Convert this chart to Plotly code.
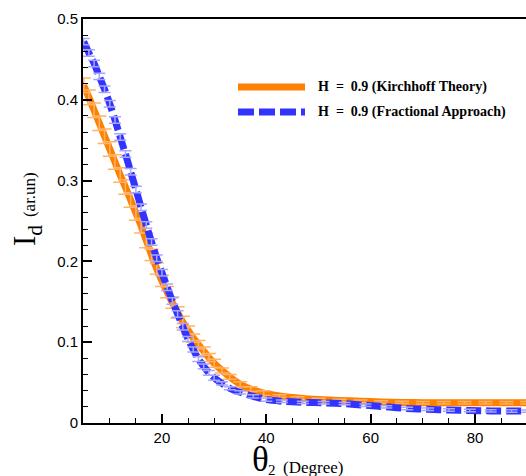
import plotly.graph_objects as go

# ---------------- data ----------------
theta_kirchhoff = [5, 6, 7, 8, 9, 10, 11, 12, 13, 14, 15, 16, 17, 18, 19, 20, 21, 22, 23, 24,
                   25, 26, 27, 28, 29, 30, 31.5, 33, 35, 37, 39.5,
                   42.5, 46, 50, 54, 58, 62, 66, 70, 74, 78, 82, 86, 90]
i_kirchhoff = [0.418, 0.403, 0.387, 0.371, 0.355, 0.339, 0.323, 0.307, 0.292, 0.276,
               0.260, 0.244, 0.226, 0.208, 0.191, 0.176, 0.162, 0.149, 0.137, 0.125,
               0.115, 0.105, 0.097, 0.089, 0.081, 0.074, 0.065, 0.057, 0.048, 0.042, 0.037,
               0.0335, 0.031, 0.029, 0.028, 0.027, 0.026, 0.0255, 0.025, 0.025, 0.025,
               0.025, 0.025, 0.025]
err_kirchhoff = [0.009] * 13 + [0.007] * 7 + [0.005] * 6 + [0.003] * 5 + [0.0015] * 13

theta_fractional = [5, 6, 7, 8, 9, 10, 11, 12, 13, 14, 15, 16, 17, 18, 19, 20, 21, 22, 23, 24,
                    25, 26, 27, 28, 29, 30, 31.5, 33, 35, 37.5, 40,
                    43, 47, 51, 55, 59, 63, 67, 71, 75, 79, 83, 87, 90]
i_fractional = [0.472, 0.458, 0.445, 0.429, 0.413, 0.395, 0.375, 0.354, 0.333, 0.311,
                0.289, 0.267, 0.245, 0.224, 0.204, 0.186, 0.168, 0.151, 0.135, 0.119,
                0.104, 0.091, 0.079, 0.070, 0.062, 0.056, 0.049, 0.043, 0.038, 0.033, 0.029,
                0.027, 0.0255, 0.025, 0.024, 0.022, 0.020, 0.018, 0.017, 0.016, 0.0155,
                0.015, 0.0148, 0.0147]
err_fractional = [0.004] * 20 + [0.003] * 6 + [0.002] * 5 + [0.0015] * 13

series_names = ["H\u00a0\u00a0=\u00a0\u00a00.9 (Kirchhoff Theory)",
                "H\u00a0\u00a0=\u00a0\u00a00.9 (Fractional Approach)"]
x_ticks = [20, 40, 60, 80]
y_ticks = [0, 0.1, 0.2, 0.3, 0.4, 0.5]
x_title_main = "θ"
x_title_sub = "2"
x_title_unit = "(Degree)"
y_title = "I<sub>d</sub> <span style='font-size:17px'>(ar.un)</span>"

# ---------------- style ----------------
ORANGE = "#FF8000"
ORANGE_ERR = "#FFB366"
BLUE = "#3333FF"
BLUE_ERR = "#A6A6FF"

W, H = 526, 476
ML, MR, MT, MB = 83, 0, 19, 53
PW, PH = W - ML - MR, H - MT - MB


def px(xp):
    # screen pixel x -> paper
    return (xp - ML) / PW


def py(yp):
    # screen pixel y -> paper
    return (H - MB - yp) / PH


fig = go.Figure()

fig.add_trace(go.Scatter(x=theta_kirchhoff, y=i_kirchhoff, mode="lines",
                         line=dict(color=ORANGE, width=7, shape="spline", smoothing=0.5),
                         showlegend=False, name=series_names[0]))
fig.add_trace(go.Scatter(x=theta_kirchhoff, y=i_kirchhoff, mode="markers",
                         marker=dict(size=1, color="rgba(0,0,0,0)"),
                         error_y=dict(type="data", array=err_kirchhoff, visible=True,
                                      color=ORANGE_ERR, thickness=1.5, width=7),
                         showlegend=False, hoverinfo="skip"))
fig.add_trace(go.Scatter(x=theta_fractional, y=i_fractional, mode="lines",
                         line=dict(color=BLUE, width=7, dash="15px,5px",
                                   shape="spline", smoothing=0.5),
                         showlegend=False, name=series_names[1]))
fig.add_trace(go.Scatter(x=theta_fractional, y=i_fractional, mode="markers",
                         marker=dict(size=1, color="rgba(0,0,0,0)"),
                         error_y=dict(type="data", array=err_fractional, visible=True,
                                      color=BLUE_ERR, thickness=1.5, width=6),
                         showlegend=False, hoverinfo="skip"))

tickfont = dict(family="Liberation Sans", size=15, color="black")

fig.update_layout(
    width=W, height=H,
    margin=dict(l=ML, r=MR, t=MT, b=MB, pad=0),
    paper_bgcolor="white", plot_bgcolor="white",
    showlegend=False,
    xaxis=dict(range=[4.87, 89.77], tickvals=x_ticks, ticks="inside", ticklen=9,
               tickwidth=2, tickcolor="black", showline=True, linewidth=2,
               linecolor="black", mirror=True, showgrid=False, zeroline=False,
               tickfont=tickfont,
               minor=dict(dtick=5, tick0=0, ticks="inside", ticklen=5, tickwidth=1.2,
                          tickcolor="black", showgrid=False)),
    yaxis=dict(range=[0, 0.5], tickvals=y_ticks, ticks="inside", ticklen=9,
               tickwidth=2, tickcolor="black", showline=True, linewidth=2,
               linecolor="black", mirror=False, showgrid=False, zeroline=False,
               tickfont=tickfont,
               minor=dict(dtick=0.02, tick0=0, ticks="inside", ticklen=5, tickwidth=1.2,
                          tickcolor="black", showgrid=False)),
)

# manual legend (long line samples as in the reference)
fig.add_shape(type="line", xref="paper", yref="paper", x0=px(238), x1=px(305),
              y0=py(87), y1=py(87), line=dict(color=ORANGE, width=7))
fig.add_shape(type="line", xref="paper", yref="paper", x0=px(238), x1=px(305),
              y0=py(112), y1=py(112), line=dict(color=BLUE, width=7, dash="16px,5px"))
legfont = dict(family="Liberation Serif", size=14, color="black", weight="bold")
fig.add_annotation(xref="paper", yref="paper", x=px(316), y=py(87), text=series_names[0],
                   showarrow=False, xanchor="left", yanchor="middle", font=legfont)
fig.add_annotation(xref="paper", yref="paper", x=px(316), y=py(112), text=series_names[1],
                   showarrow=False, xanchor="left", yanchor="middle", font=legfont)

# axis titles
fig.add_annotation(xref="paper", yref="paper", x=px(271), y=py(481), text=x_title_main,
                   showarrow=False, xanchor="right", yanchor="bottom",
                   font=dict(family="Liberation Serif", size=35, color="black"))
fig.add_annotation(xref="paper", yref="paper", x=px(266), y=py(480), text=x_title_sub,
                   showarrow=False, xanchor="left", yanchor="bottom",
                   font=dict(family="Liberation Serif", size=15, color="black"))
fig.add_annotation(xref="paper", yref="paper", x=px(281), y=py(479), text=x_title_unit,
                   showarrow=False, xanchor="left", yanchor="bottom",
                   font=dict(family="Liberation Serif", size=17, color="black"))
fig.add_annotation(xref="paper", yref="paper", x=px(27), y=py(209), text=y_title,
                   showarrow=False, xanchor="center", yanchor="middle", textangle=-90,
                   font=dict(family="Liberation Serif", size=31, color="black"))

# the page body gets no margin so the figure sits at the window's top-left corner
fig.write_html("out.html", config={"displayModeBar": False},
               post_script="document.body.style.margin='0';document.body.style.overflow='hidden';")
